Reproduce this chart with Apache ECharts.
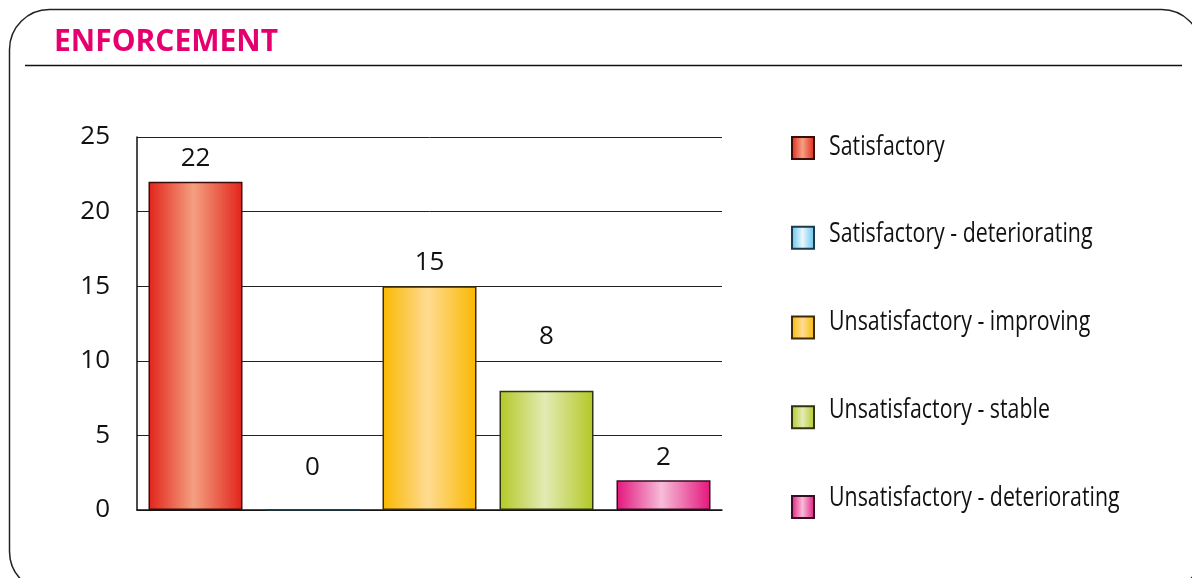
<!DOCTYPE html>
<html>
<head>
<meta charset="utf-8">
<script src="https://cdn.jsdelivr.net/npm/echarts@6/dist/echarts.min.js"></script>
<style>
  html, body { margin: 0; padding: 0; background: #fff; }
  #chart { width: 1192px; height: 578px; }
</style>
</head>
<body>
<div id="chart"></div>
<script>
// Enforcement assessment counts
const categories = [
  'Satisfactory',
  'Satisfactory - deteriorating',
  'Unsatisfactory - improving',
  'Unsatisfactory - stable',
  'Unsatisfactory - deteriorating'
];
const counts = [22, 0, 15, 8, 2];
const yTicks = [0, 5, 10, 15, 20, 25];

// Fill colours: [edge, centre] of a horizontal sheen
const palette = [
  ['#e2231a', '#f4a080'],
  ['#5cc2ef', '#eaf7fd'],
  ['#fab800', '#fedb92'],
  ['#b3c825', '#e3ebb4'],
  ['#e3167c', '#f6bcd8']
];
const borderColors = ['#3a0d08', '#1c3a48', '#3d2a08', '#2f3510', '#3a0c24'];
const labelDistance = [10, 29, 11, 41, 10];

// Legend layout
const legendLeft = 791;
const legendTop = 136;
const legendBox = 22;
const legendGap = 65.75;
const legendTextX = 829;
const legendTextScale = 0.79;

function sheen(c) {
  return new echarts.graphic.LinearGradient(0, 0, 1, 0, [
    { offset: 0, color: c[0] },
    { offset: 0.48, color: c[1] },
    { offset: 1, color: c[0] }
  ]);
}

const series = categories.map((name, i) => ({
  name: name,
  type: 'bar',
  stack: 'all',
  barWidth: 94,
  data: counts.map((v, j) => (j === i ? v : '-')),
  itemStyle: {
    color: sheen(palette[i]),
    borderColor: borderColors[i],
    borderWidth: 1.5
  },
  label: {
    show: true,
    position: 'top',
    distance: labelDistance[i],
    color: '#111',
    fontFamily: 'Open Sans',
    fontSize: 26
  }
}));

// Condensed legend captions beside the legend swatches
const legendCaptions = categories.map((name, i) => ({
  type: 'text',
  x: legendTextX,
  y: legendTop + legendBox / 2 + i * (legendBox + legendGap),
  scaleX: legendTextScale,
  silent: true,
  style: {
    text: name,
    x: 0,
    y: 0,
    fill: '#111',
    font: '27px "Open Sans"',
    textAlign: 'left',
    textVerticalAlign: 'middle'
  }
}));

const chart = echarts.init(document.getElementById('chart'), null, { renderer: 'canvas' });
chart.setOption({
  animation: false,
  backgroundColor: '#fff',
  title: {
    text: 'ENFORCEMENT',
    left: 49,
    top: 22,
    padding: 5,
    textStyle: {
      color: '#e5006d',
      fontFamily: 'Open Sans',
      fontWeight: 'bold',
      fontSize: 30
    }
  },
  graphic: [
    {
      type: 'rect',
      shape: { x: 9.5, y: 9.5, width: 1192, height: 582, r: 40 },
      style: { fill: null, stroke: '#222', lineWidth: 1.5 },
      silent: true
    },
    {
      type: 'line',
      shape: { x1: 25, y1: 65.5, x2: 1182, y2: 65.5 },
      style: { stroke: '#111', lineWidth: 1.5 },
      silent: true
    }
  ].concat(legendCaptions),
  legend: {
    orient: 'vertical',
    left: legendLeft,
    top: legendTop,
    padding: 0,
    itemWidth: legendBox,
    itemHeight: legendBox,
    itemGap: legendGap,
    icon: 'rect',
    formatter: () => '',
    textStyle: { fontSize: 1, lineHeight: 1 },
    data: categories
  },
  grid: { left: 137, right: 470, top: 137, bottom: 68 },
  xAxis: {
    type: 'category',
    data: categories,
    axisLine: { show: true, lineStyle: { color: '#111', width: 1.5 } },
    axisTick: { show: false },
    axisLabel: { show: false }
  },
  yAxis: {
    type: 'value',
    min: yTicks[0],
    max: yTicks[yTicks.length - 1],
    interval: yTicks[1] - yTicks[0],
    axisLine: { show: true, lineStyle: { color: '#111', width: 1.5 } },
    axisTick: { show: false },
    splitLine: { show: true, lineStyle: { color: '#222', width: 1 } },
    axisLabel: {
      color: '#111',
      fontFamily: 'Open Sans',
      fontSize: 26,
      margin: 27
    }
  },
  series: series
});
</script>
</body>
</html>
